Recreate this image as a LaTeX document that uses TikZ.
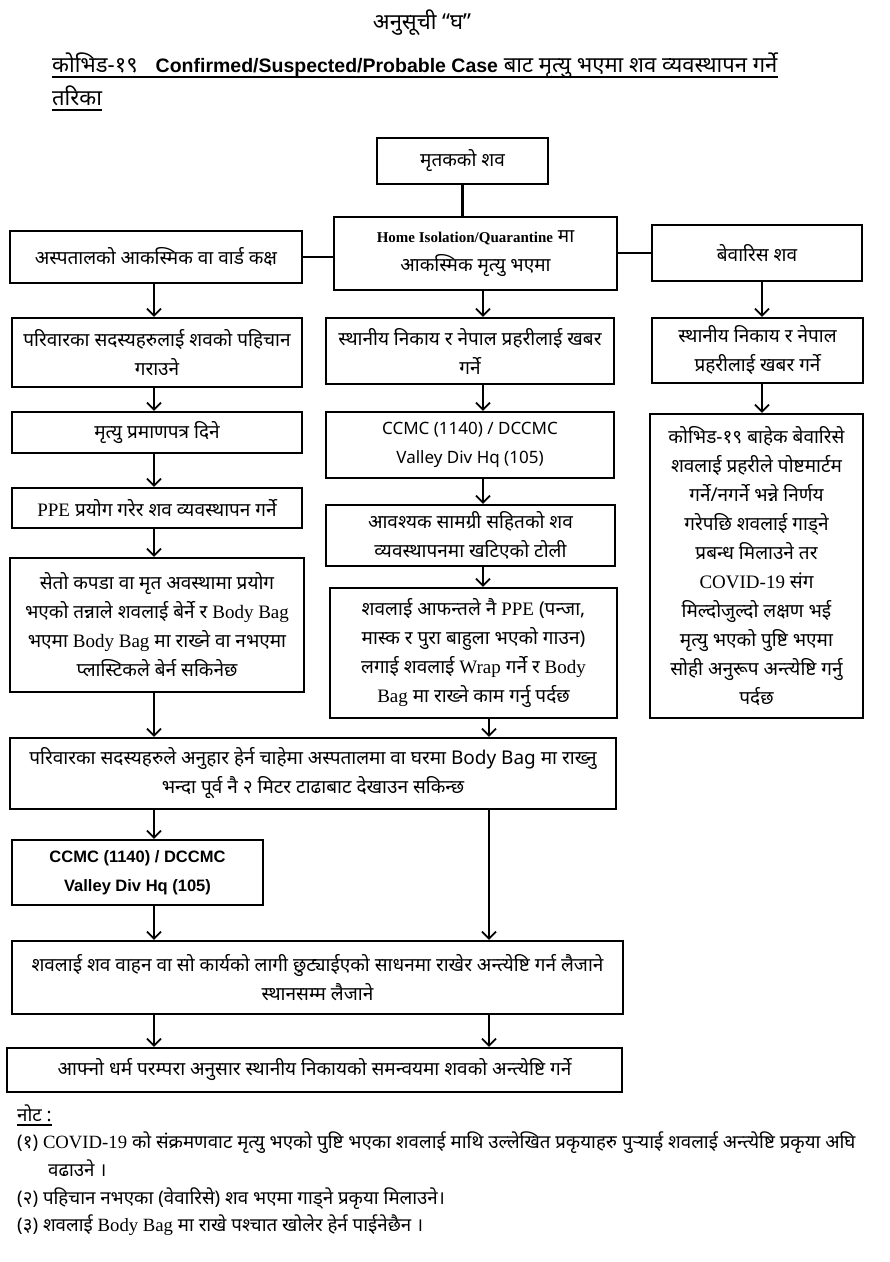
\documentclass[tikz,border=0pt]{standalone}
\usepackage{fontspec}
\setmainfont[Script=Devanagari]{Noto Sans}
\newfontfamily\lat{Liberation Serif}
\newfontfamily\latsans{Liberation Sans}
\usetikzlibrary{arrows.meta}
\tikzset{
  box/.style={draw, line width=2.4pt, inner sep=2pt, align=center, font=\fontsize{19}{29}\selectfont},
  arr/.style={line width=1.8pt, -{Straight Barb[length=7pt,width=14pt]}},
  ln/.style={line width=2.6pt},
  uline/.style={line width=1.3pt},
  txt/.style={anchor=base west, inner sep=0pt, font=\fontsize{18.7}{28}\selectfont}
}
\begin{document}
\begin{tikzpicture}[x=1pt,y=-1pt]
\fill[white] (0,0) rectangle (890,1262);
\useasboundingbox (0,0) rectangle (890,1262);
% titles
\node[inner sep=0pt, anchor=base, font=\fontsize{22}{26}\selectfont] (title) at (422,29) {अनुसूची “घ”};
\node[txt, font=\fontsize{22}{26}\selectfont] (head1) at (52,72) {कोभिड-१९\hspace{18pt}{\latsans\bfseries\fontsize{19.5}{24}\selectfont Confirmed/Suspected/Probable Case} बाट मृत्यु भएमा शव व्यवस्थापन गर्ने};
\node[txt, font=\fontsize{22}{26}\selectfont] (head2) at (52,105) {तरिका};
\draw[uline] ([yshift=-5pt]head1.base west) -- ([yshift=-5pt]head1.base east);
\draw[uline] ([yshift=-5pt]head2.base west) -- ([yshift=-5pt]head2.base east);
% boxes
\node[box, minimum width=171, minimum height=46] (top) at (462.5,161) {मृतकको शव};
\node[box, minimum width=292, minimum height=52] (hosp) at (156,257) {अस्पतालको आकस्मिक वा वार्ड कक्ष};
\node[box, minimum width=283, minimum height=73] (home) at (475.5,253.5) {{\lat\bfseries\fontsize{15}{29}\selectfont Home Isolation/Quarantine} मा\\आकस्मिक मृत्यु भएमा};
\node[box, minimum width=210, minimum height=56] (unk) at (757,253) {बेवारिस शव};
\node[box, minimum width=290, minimum height=69] (l1) at (157,352.5) {परिवारका सदस्यहरुलाई शवको पहिचान\\गराउने};
\node[box, minimum width=290, minimum height=41] (l2) at (157,432.5) {मृत्यु प्रमाणपत्र दिने};
\node[box, minimum width=290, minimum height=40] (l3) at (157,508) {{\lat PPE} प्रयोग गरेर शव व्यवस्थापन गर्ने};
\node[box, minimum width=294, minimum height=134] (l4) at (157,625) {सेतो कपडा वा मृत अवस्थामा प्रयोग\\भएको तन्नाले शवलाई बेर्ने र {\lat Body Bag}\\भएमा {\lat Body Bag} मा राख्ने वा नभएमा\\प्लास्टिकले बेर्न सकिनेछ};
\node[box, minimum width=288, minimum height=66] (m1) at (470,351) {स्थानीय निकाय र नेपाल प्रहरीलाई खबर\\गर्ने};
\node[box, minimum width=288, minimum height=66, font=\fontsize{17}{29}\selectfont] (m2) at (470,445) {CCMC (1140) / DCCMC\\Valley Div Hq (105)};
\node[box, minimum width=289, minimum height=61] (m3) at (470.5,535.5) {आवश्यक सामग्री सहितको शव\\व्यवस्थापनमा खटिएको टोली};
\node[box, minimum width=287, minimum height=130] (m4) at (473.5,653) {शवलाई आफन्तले नै {\lat PPE} (पन्जा,\\मास्क र पुरा बाहुला भएको गाउन)\\लगाई शवलाई {\lat Wrap} गर्ने र {\lat Body}\\{\lat Bag} मा राख्ने काम गर्नु पर्दछ};
\node[box, minimum width=211, minimum height=65] (r1) at (757.5,350.5) {स्थानीय निकाय र नेपाल\\प्रहरीलाई खबर गर्ने};
\node[box, minimum width=213, minimum height=304] (r2) at (756.5,566) {कोभिड-१९ बाहेक बेवारिसे\\शवलाई प्रहरीले पोष्टमार्टम\\गर्ने/नगर्ने भन्ने निर्णय\\गरेपछि शवलाई गाड्ने\\प्रबन्ध मिलाउने तर\\{\lat COVID-19} संग\\मिल्दोजुल्दो लक्षण भई\\मृत्यु भएको पुष्टि भएमा\\सोही अनुरूप अन्त्येष्टि गर्नु\\पर्दछ};
\node[box, minimum width=606, minimum height=71] (fam) at (313,773.5) {परिवारका सदस्यहरुले अनुहार हेर्न चाहेमा अस्पतालमा वा घरमा Body Bag मा राख्नु\\भन्दा पूर्व नै २ मिटर टाढाबाट देखाउन सकिन्छ};
\node[box, minimum width=251, minimum height=65, font=\latsans\fontsize{16.5}{29}\selectfont\bfseries] (ccmc) at (137.5,872.5) {CCMC (1140) / DCCMC\\Valley Div Hq (105)};
\node[box, minimum width=611, minimum height=73] (veh) at (317.5,977.5) {शवलाई शव वाहन वा सो कार्यको लागी छुट्याईएको साधनमा राखेर अन्त्येष्टि गर्न लैजाने\\स्थानसम्म लैजाने};
\node[box, minimum width=615, minimum height=44] (fin) at (314.5,1070) {आफ्नो धर्म परम्परा अनुसार स्थानीय निकायको समन्वयमा शवको अन्त्येष्टि गर्ने};
% column coordinates
\coordinate (xL) at (154,0);
\coordinate (xM) at (483,0);
\coordinate (xN) at (489,0);
\coordinate (xR) at (762,0);
% connectors
\draw[ln] (top.south) -- (home.north -| top.south);
\draw[ln] (hosp.east) -- (hosp.east -| home.west);
\draw[ln] (unk.west) -- (unk.west -| home.east);
\draw[arr] (hosp.south -| xL) -- (l1.north -| xL);
\draw[arr] (l1.south -| xL) -- (l2.north -| xL);
\draw[arr] (l2.south -| xL) -- (l3.north -| xL);
\draw[arr] (l3.south -| xL) -- (l4.north -| xL);
\draw[arr] (l4.south -| xL) -- (fam.north -| xL);
\draw[arr] (home.south -| xM) -- (m1.north -| xM);
\draw[arr] (m1.south -| xM) -- (m2.north -| xM);
\draw[arr] (m2.south -| xM) -- (m3.north -| xM);
\draw[arr] (m3.south -| xM) -- (m4.north -| xM);
\draw[arr] (m4.south -| xN) -- (fam.north -| xN);
\draw[arr] (unk.south -| xR) -- (r1.north -| xR);
\draw[arr] (r1.south -| xR) -- (r2.north -| xR);
\draw[arr] (fam.south -| xL) -- (ccmc.north -| xL);
\draw[arr] (fam.south -| xN) -- (veh.north -| xN);
\draw[arr] (ccmc.south -| xL) -- (veh.north -| xL);
\draw[arr] (veh.south -| xL) -- (fin.north -| xL);
\draw[arr] (veh.south -| xN) -- (fin.north -| xN);
% notes
\node[txt] (n0) at (17,1121) {नोट :};
\draw[uline] ([yshift=-4pt]n0.base west) -- ([yshift=-4pt]n0.base east);
\node[txt] (n1) at (17,1148) {(१) {\lat COVID-19} को संक्रमणवाट मृत्यु भएको पुष्टि भएका शवलाई माथि उल्लेखित प्रकृयाहरु पुऱ्याई शवलाई अन्त्येष्टि प्रकृया अघि};
\node[txt] (n1b) at (48,1176) {वढाउने ।};
\node[txt] (n2) at (17,1204) {(२) पहिचान नभएका (वेवारिसे) शव भएमा गाड्ने प्रकृया मिलाउने।};
\node[txt] (n3) at (17,1231) {(३) शवलाई {\lat Body Bag} मा राखे पश्चात खोलेर हेर्न पाईनेछैन ।};
\end{tikzpicture}
\end{document}
